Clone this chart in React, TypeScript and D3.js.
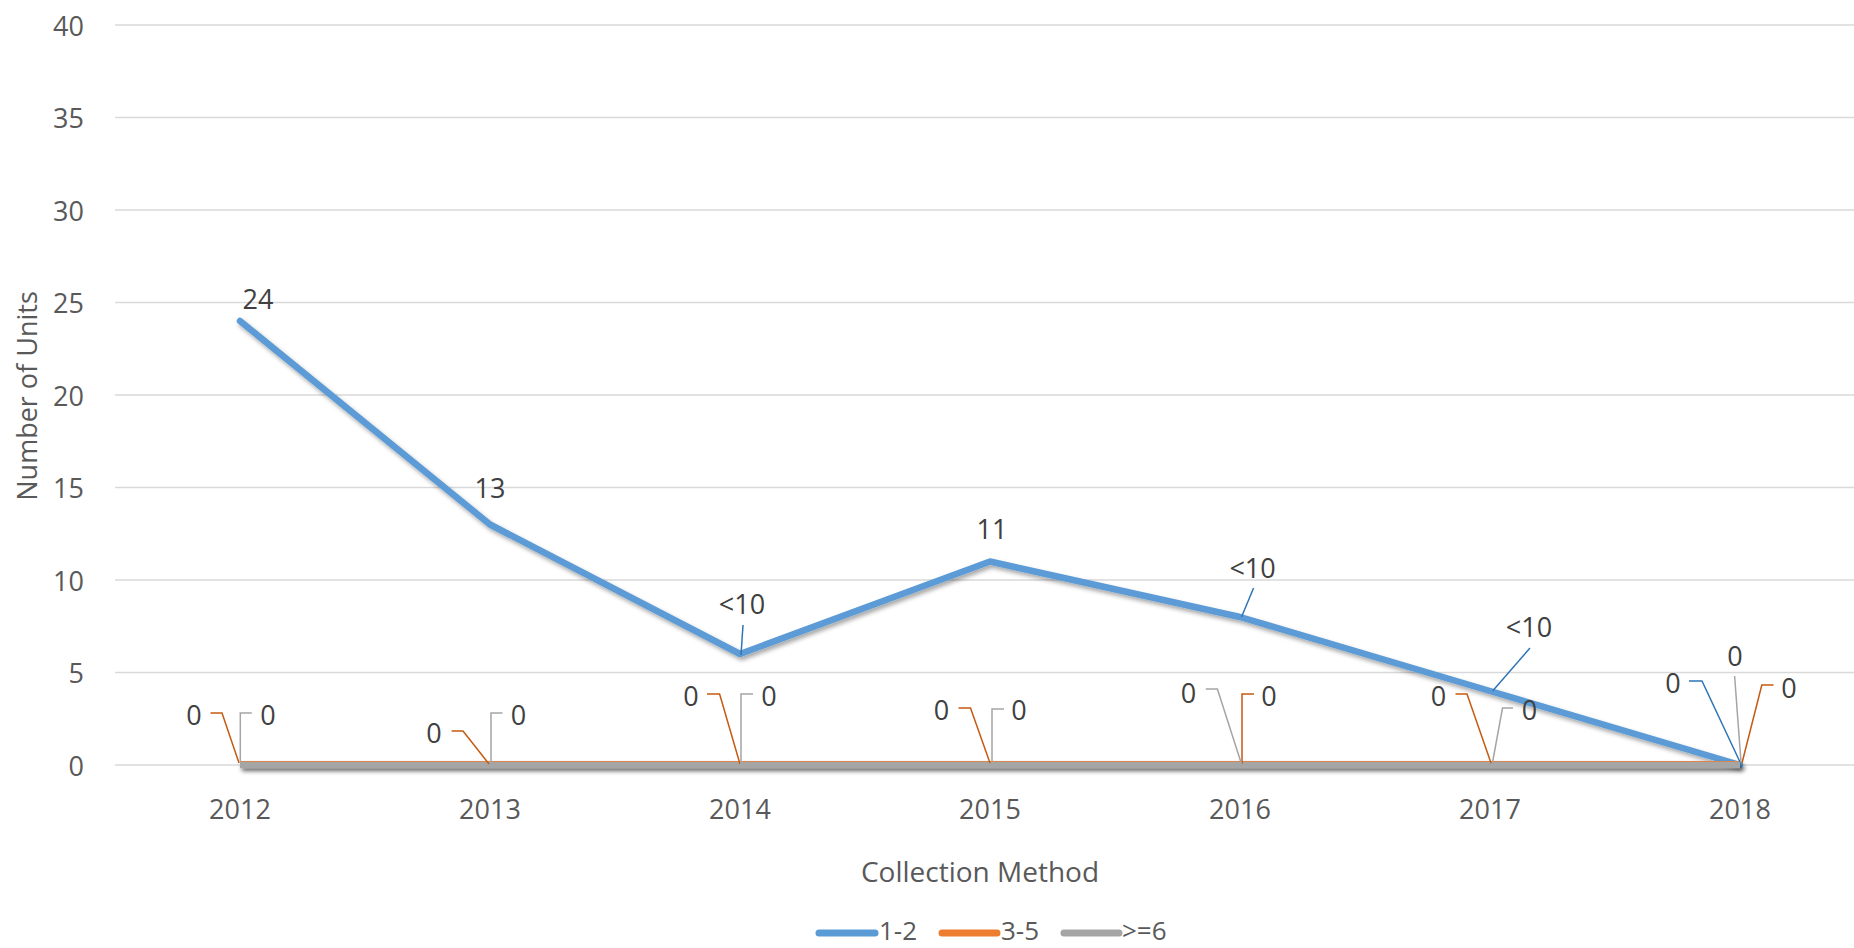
import React from "react";
import * as d3 from "d3";

const years = ["2012", "2013", "2014", "2015", "2016", "2017", "2018"];
const seriesNames = ["1-2", "3-5", ">=6"];
const values12 = [24, 13, 6, 11, 8, 4, 0];
const values35 = [0, 0, 0, 0, 0, 0, 0];
const values6 = [0, 0, 0, 0, 0, 0, 0];
const labels12 = ["24", "13", "<10", "11", "<10", "<10", "0"];
const labels35 = ["0", "0", "0", "0", "0", "0", "0"];
const labels6 = ["0", "0", "0", "0", "0", "0", "0"];
const yTicks = [0, 5, 10, 15, 20, 25, 30, 35, 40];

// label placement (offsets in px from the data point): text centre and leader path
type Lay = { dx: number; dy: number; leader?: [number, number][] };
const layout12: Lay[] = [
  { dx: 18, dy: -23 },
  { dx: 0, dy: -37 },
  { dx: 2, dy: -51, leader: [[3, -29], [1, 1]] },
  { dx: 2, dy: -33 },
  { dx: 12.6, dy: -50, leader: [[13.6, -29], [1.5, 0]] },
  { dx: 39, dy: -65, leader: [[40, -43], [2.6, 0]] },
  { dx: -67, dy: -83, leader: [[-51, -84], [-38, -84], [0, -3]] },
];
const layout35: Lay[] = [
  { dx: -46, dy: -51, leader: [[-29.5, -52], [-18, -52], [-1, -2]] },
  { dx: -56, dy: -32.5, leader: [[-38.4, -34], [-27, -34], [-1, -1]] },
  { dx: -49, dy: -70, leader: [[-33, -71], [-20.4, -71], [0, -1]] },
  { dx: -48.5, dy: -56, leader: [[-31.5, -57], [-19.5, -57], [0, -2]] },
  { dx: 29, dy: -70, leader: [[14, -71], [2, -71], [2, -1]] },
  { dx: -51.5, dy: -70, leader: [[-34.5, -71], [-23, -71], [1, -2]] },
  { dx: 49, dy: -78, leader: [[33.5, -80], [21.8, -80], [2, -2]] },
];
const layout6: Lay[] = [
  { dx: 28, dy: -51, leader: [[11.8, -52], [0.3, -52], [0.3, -2]] },
  { dx: 28.5, dy: -51, leader: [[12.5, -52], [1, -52], [1, -2]] },
  { dx: 29, dy: -70, leader: [[13, -71], [1, -71], [1, -1]] },
  { dx: 29, dy: -56, leader: [[14, -56], [2, -56], [2, -1]] },
  { dx: -51.4, dy: -73, leader: [[-34.2, -76], [-22.6, -76], [1.5, -1]] },
  { dx: 39.6, dy: -56, leader: [[23, -57], [12.5, -57], [2.6, -3]] },
  { dx: -5, dy: -110, leader: [[-5.4, -89], [1, -3]] },
];

const W = 1854;
const H = 948;
const FONT = "'Open Sans', sans-serif";

const colors = ["#5B9BD5", "#ED7D31", "#A5A5A5"];
const leaderColors = ["#2E75B6", "#C55A11", "#A5A5A5"];

export default function App() {
  const x = d3.scalePoint<string>().domain(years).range([115, 1865]).padding(0.5);
  const y = d3.scaleLinear().domain([0, 40]).range([765, 25]);
  const line = d3
    .line<number>()
    .x((_, i) => x(years[i]) as number)
    .y((d) => y(d));

  const series = [
    { vals: values12, labels: labels12, lay: layout12 },
    { vals: values35, labels: labels35, lay: layout35 },
    { vals: values6, labels: labels6, lay: layout6 },
  ];

  const legendItems = [
    { x1: 819, x2: 875, tx: 879 },
    { x1: 942, x2: 997, tx: 1001 },
    { x1: 1064, x2: 1119, tx: 1122 },
  ];
  const legendY = 930;

  return (
    <svg
      width={W}
      height={H}
      style={{ position: "absolute", left: 0, top: 0, background: "#fff" }}
      fontFamily={FONT}
    >
      <defs>
        <filter id="shadow" filterUnits="userSpaceOnUse" x={0} y={0} width={W} height={H}>
          <feDropShadow dx="2" dy="3" stdDeviation="2.2" floodColor="#000" floodOpacity="0.35" />
        </filter>
      </defs>
      {/* gridlines */}
      {yTicks.map((t) => (
        <line key={t} x1={115} x2={W} y1={y(t)} y2={y(t)} stroke="#D9D9D9" strokeWidth={1.4} />
      ))}
      {/* y tick labels */}
      {yTicks.map((t) => (
        <text
          key={"yl" + t}
          x={84}
          y={y(t)}
          textAnchor="end"
          dominantBaseline="central"
          fontSize={27}
          fill="#595959"
        >
          {t}
        </text>
      ))}
      {/* x tick labels */}
      {years.map((yr) => (
        <text
          key={"xl" + yr}
          x={x(yr) as number}
          y={808}
          textAnchor="middle"
          dominantBaseline="central"
          fontSize={27}
          fill="#595959"
        >
          {yr}
        </text>
      ))}
      {/* axis titles */}
      <text x={980} y={871} textAnchor="middle" dominantBaseline="central" fontSize={28} fill="#595959">
        Collection Method
      </text>
      <text
        transform={`translate(26,396) rotate(-90)`}
        textAnchor="middle"
        dominantBaseline="central"
        fontSize={27}
        fill="#595959"
      >
        Number of Units
      </text>
      {/* series lines */}
      {series.map((s, si) => (
        <path
          key={"ln" + si}
          d={line(s.vals) as string}
          fill="none"
          stroke={colors[si]}
          strokeWidth={6.5}
          strokeLinejoin="round"
          strokeLinecap={si === 0 ? "round" : "butt"}
          filter="url(#shadow)"
          transform={si === 1 ? "translate(0,-0.8)" : undefined}
        />
      ))}
      {/* leaders and labels */}
      {series.map((s, si) =>
        s.vals.map((v, i) => {
          const px = x(years[i]) as number;
          const py = y(v);
          const l = s.lay[i];
          return (
            <g key={`lab${si}-${i}`}>
              {l.leader && (
                <polyline
                  points={l.leader.map(([a, b]) => `${px + a},${py + b}`).join(" ")}
                  fill="none"
                  stroke={leaderColors[si]}
                  strokeWidth={1.5}
                />
              )}
              <text
                x={px + l.dx}
                y={py + l.dy}
                textAnchor="middle"
                dominantBaseline="central"
                fontSize={27}
                fill="#404040"
              >
                {s.labels[i]}
              </text>
            </g>
          );
        })
      )}
      {/* legend */}
      {seriesNames.map((n, i) => (
        <g key={"lg" + n}>
          <line
            x1={legendItems[i].x1}
            x2={legendItems[i].x2}
            y1={legendY + 3}
            y2={legendY + 3}
            stroke={colors[i]}
            strokeWidth={7}
            strokeLinecap="round"
          />
          <text x={legendItems[i].tx} y={legendY} dominantBaseline="central" fontSize={26} fill="#595959">
            {n}
          </text>
        </g>
      ))}
    </svg>
  );
}
